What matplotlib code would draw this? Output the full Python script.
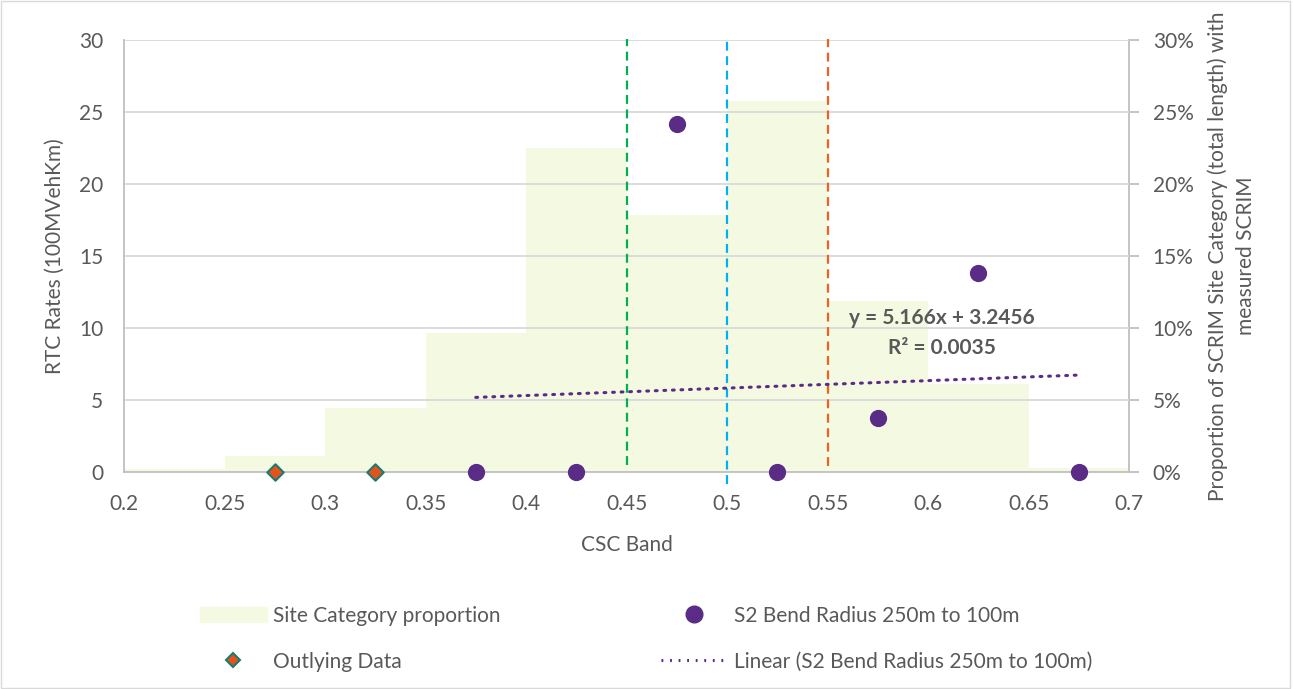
import matplotlib.pyplot as plt
import matplotlib.patches as mpatches
from matplotlib.lines import Line2D
import numpy as np

plt.rcParams['font.family'] = ['Lato', 'DejaVu Sans']

# Site category proportion per CSC band (fraction of total length)
band_edges = [0.2, 0.25, 0.3, 0.35, 0.4, 0.45, 0.5, 0.55, 0.6, 0.65]
band_width = 0.05
band_share = [0.002, 0.011, 0.0445, 0.0965, 0.225, 0.1785, 0.2576, 0.119, 0.061, 0.003]

# RTC rates for S2 bends (band mid-points)
s2_x = [0.375, 0.425, 0.475, 0.525, 0.575, 0.625, 0.675]
s2_y = [0, 0, 24.17, 0, 3.75, 13.8, 0]

# Outlying points
out_x = [0.275, 0.325]
out_y = [0, 0]

# Linear trend for S2 points
slope = 5.166
intercept = 3.2456
r_squared = 0.0035

# Threshold lines: x, colour, vertical extent
thresholds = [0.45, 0.5, 0.55]
threshold_colors = ['#00B050', '#00B0F0', '#F0601E']
threshold_spans = [(0.5, 30.1), (-0.8, 29.9), (0.4, 30.1)]

text_grey = '#595959'
grid_grey = '#D9D9D9'
axis_grey = '#BFBFBF'
fs = 15

fig = plt.figure(figsize=(12.93, 6.89), dpi=100)
ax = fig.add_axes([0.0959, 0.3149, 0.7773, 0.6271])
ax2 = ax.twinx()

# Bars on the secondary axis, drawn behind everything
ax2.bar(band_edges, band_share, width=band_width, align='edge',
        color='#F4F9E2', edgecolor='none', zorder=1)
ax2.set_ylim(0, 0.30)
ax2.set_yticks(np.arange(0, 0.31, 0.05))
ax2.set_yticklabels([f'{int(round(v * 100))}%' for v in np.arange(0, 0.31, 0.05)])
ax2.set_ylabel('Proportion of SCRIM Site Category (total length) with\nmeasured SCRIM',
               fontsize=fs, color=text_grey, labelpad=10, linespacing=1.5)

# Primary axis in front of bars
ax.set_zorder(ax2.get_zorder() + 1)
ax.patch.set_visible(False)

for y in range(5, 31, 5):
    ax.axhline(y, color=grid_grey, lw=1.3, zorder=0)

for x, c, (y0, y1) in zip(thresholds, threshold_colors, threshold_spans):
    ax.plot([x, x], [y0, y1], color=c, lw=1.6, ls=(0, (4, 2.5)), zorder=2,
            clip_on=False)

xs = np.array([s2_x[0], s2_x[-1]])
ax.plot(xs, slope * xs + intercept, color='#5B2C86', lw=2.2,
        ls=(0, (0.6, 2.2)), dash_capstyle='round', zorder=3)

ax.scatter(s2_x, s2_y, s=130, color='#5B2C86', zorder=5, clip_on=False)
ax.scatter(out_x, out_y, s=70, marker='D', color='#E5531A',
           edgecolors='#1A7A72', linewidths=1.5, zorder=5, clip_on=False)

ax.text(0.607, 10.7, f'y = {slope}x + {intercept}', ha='center', va='center',
        fontsize=fs, fontweight='bold', color=text_grey, zorder=6)
ax.text(0.607, 8.6, f'R² = {r_squared}', ha='center', va='center',
        fontsize=fs, fontweight='bold', color=text_grey, zorder=6)

ax.set_xlim(0.2, 0.7)
ax.set_ylim(0, 30)
ax.set_xticks(np.arange(0.2, 0.701, 0.05))
ax.set_xticklabels(['0.2', '0.25', '0.3', '0.35', '0.4', '0.45', '0.5',
                    '0.55', '0.6', '0.65', '0.7'])
ax.set_yticks(range(0, 31, 5))
ax.set_xlabel('CSC Band', fontsize=fs, color=text_grey, labelpad=15)
ax.set_ylabel('RTC Rates (100MVehKm)', fontsize=fs, color=text_grey, labelpad=10)

for a in (ax, ax2):
    for side in ('top', 'right', 'left', 'bottom'):
        a.spines[side].set_visible(False)
for sp in (ax.spines['left'], ax.spines['bottom'], ax2.spines['right']):
    sp.set_visible(True)
    sp.set_color(axis_grey)
    sp.set_linewidth(1.3)

ax.tick_params(axis='y', length=0, labelsize=fs, labelcolor=text_grey, pad=15)
ax.tick_params(axis='x', length=0, labelsize=fs, labelcolor=text_grey, pad=16)
ax2.tick_params(axis='y', length=7, color=axis_grey, width=1.3,
                labelsize=fs, labelcolor=text_grey, pad=10)

handles = [
    mpatches.Patch(color='#F4F9E2', label='Site Category proportion'),
    Line2D([], [], ls='none', marker='D', markersize=7, color='#E5531A',
           markeredgecolor='#1A7A72', markeredgewidth=1.5, label='Outlying Data'),
    Line2D([], [], ls='none', marker='o', markersize=12, color='#5B2C86',
           label='S2 Bend Radius 250m to 100m'),
    Line2D([], [], color='#5B2C86', lw=2.2, ls=(0, (0.6, 2.2)),
           label='Linear (S2 Bend Radius 250m to 100m)'),
]
fig.legend(handles=handles, loc='center left', bbox_to_anchor=(0.1547, 0.073),
           ncol=2, frameon=False, fontsize=fs, labelcolor=text_grey,
           borderpad=0, borderaxespad=0, columnspacing=7.7, handlelength=3.2,
           handletextpad=0.3, labelspacing=1.25)

fig.patches.append(mpatches.Rectangle((0.001, 0.001), 0.997, 0.997,
                                      transform=fig.transFigure, fill=False,
                                      edgecolor='#D9D9D9', lw=1))

fig.savefig('out.png', dpi=100)
